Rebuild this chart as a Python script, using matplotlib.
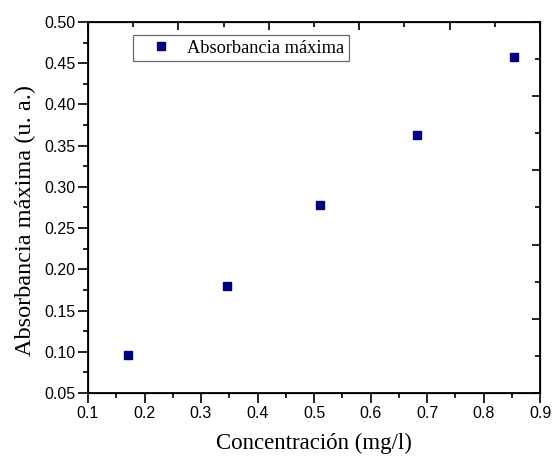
import matplotlib
matplotlib.use("Agg")
import matplotlib.pyplot as plt
from matplotlib.ticker import MultipleLocator, FormatStrFormatter

concentration = [0.171, 0.346, 0.511, 0.682, 0.854]
absorbance = [0.096, 0.180, 0.278, 0.363, 0.457]
series_label = "Absorbancia máxima"
x_label = "Concentración (mg/l)"
y_label = "Absorbancia máxima (u. a.)"

fig = plt.figure(figsize=(5.52, 4.58), dpi=100)
ax = fig.add_axes([88/552, 1-393/458, (540-88)/552, (393-22)/458])

ax.plot(concentration, absorbance, linestyle="none", marker="s", markersize=6.3,
        color="#000080", label=series_label)

ax.set_xlim(0.1, 0.9)
ax.set_ylim(0.05, 0.50)
ax.xaxis.set_major_locator(MultipleLocator(0.1))
ax.xaxis.set_minor_locator(MultipleLocator(0.05))
ax.yaxis.set_major_locator(MultipleLocator(0.05))
ax.yaxis.set_minor_locator(MultipleLocator(0.025))
ax.xaxis.set_major_formatter(FormatStrFormatter("%.1f"))
ax.yaxis.set_major_formatter(FormatStrFormatter("%.2f"))
ax.tick_params(which="both", direction="out", width=1.2, top=False, right=False)
ax.tick_params(which="major", length=7, labelsize=11.5, pad=2)
ax.tick_params(which="minor", length=3.5)
for lab in ax.get_xticklabels() + ax.get_yticklabels():
    lab.set_fontfamily("Liberation Sans")
for s in ax.spines.values():
    s.set_linewidth(1.3)

# top and right axes with their own inward ticks
axt = ax.twiny()
axt.set_xlim(0, 1)
axt.xaxis.set_major_locator(MultipleLocator(0.2))
axt.xaxis.set_minor_locator(MultipleLocator(0.1))
axt.tick_params(which="both", direction="in", width=1.2, labeltop=False, top=True)
axt.tick_params(which="major", length=6)
axt.tick_params(which="minor", length=3.5)
axr = ax.twinx()
axr.set_ylim(0, 1)
axr.yaxis.set_major_locator(MultipleLocator(0.2))
axr.yaxis.set_minor_locator(MultipleLocator(0.1))
axr.tick_params(which="both", direction="in", width=1.2, labelright=False, right=True)
axr.tick_params(which="major", length=6)
axr.tick_params(which="minor", length=3.5)

ax.set_xlabel(x_label, fontfamily="Liberation Serif", fontsize=16.5, labelpad=9)
ax.set_ylabel(y_label, fontfamily="Liberation Serif", fontsize=17.5)
ax.yaxis.set_label_coords((36-88)/452, (393-220)/371)

leg = ax.legend(loc="upper left", bbox_to_anchor=((133-88)/452, (393-35)/371),
                prop={"family": "Liberation Serif", "size": 13.2},
                frameon=True, fancybox=False, borderpad=0.25, handletextpad=0.15,
                borderaxespad=0, markerscale=1.0, handlelength=2.55)
leg.get_frame().set_edgecolor("#444444")
leg.get_frame().set_linewidth(0.9)

fig.savefig("out.png", dpi=100)
